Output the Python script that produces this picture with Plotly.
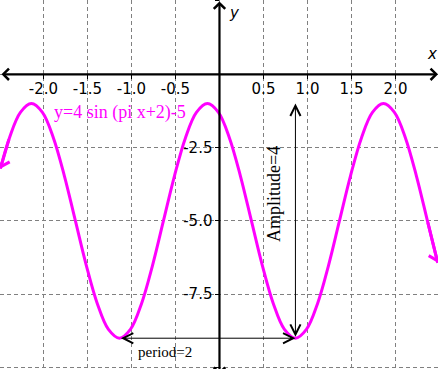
import plotly.graph_objects as go

# ---- data ----
curve_x = [-2.49, -2.387, -2.262, -2.137, -2.012, -1.887, -1.762, -1.637, -1.512, -1.387,
           -1.262, -1.137, -1.012, -0.887, -0.762, -0.637, -0.512, -0.387, -0.262, -0.137,
           -0.012, 0.113, 0.238, 0.363, 0.488, 0.613, 0.738, 0.863, 0.988, 1.113,
           1.238, 1.363, 1.488, 1.613, 1.738, 1.863, 1.988, 2.113, 2.238, 2.363, 2.48]
curve_y = [-3.22, -2.17, -1.30, -1.00, -1.30, -2.17, -3.47, -5.00, -6.53, -7.83,
           -8.70, -9.00, -8.70, -7.83, -6.53, -5.00, -3.47, -2.17, -1.30, -1.00,
           -1.30, -2.17, -3.47, -5.00, -6.53, -7.83, -8.70, -9.00, -8.70, -7.83,
           -6.53, -5.00, -3.47, -2.17, -1.30, -1.00, -1.30, -2.17, -3.47, -5.00, -6.43]

x_tick_vals = [-2.5, -2.0, -1.5, -1.0, -0.5, 0.0, 0.5, 1.0, 1.5, 2.0, 2.5]
x_tick_text = ["", "-2.0", "-1.5", "-1.0", "-0.5", "", "0.5", "1.0", "1.5", "2.0", ""]
y_tick_vals = [2.5, 0.0, -2.5, -5.0, -7.5, -10.0]
y_tick_text = ["", "", "-2.5", "-5.0", "-7.5", ""]

amp_x = 0.863
amp_y = [-1.0, -9.0]
period_x = [-1.137, 0.863]
period_y = -9.0

curve_label = "y=4 sin (pi x+2)-5"
amp_label = "Amplitude=4"
period_label = "period=2"

X_RANGE = [-2.494, 2.483]
Y_RANGE = [-10.05, 2.533]

MAGENTA = "#FF00FF"
GRID = "#808080"

fig = go.Figure()
fig.add_trace(go.Scatter(
    x=curve_x, y=curve_y, mode="lines",
    line=dict(color=MAGENTA, width=3, shape="spline", smoothing=1.0),
    hoverinfo="skip", showlegend=False,
))

x_pos = (0 - Y_RANGE[0]) / (Y_RANGE[1] - Y_RANGE[0])
y_pos = (0 - X_RANGE[0]) / (X_RANGE[1] - X_RANGE[0])

tickfont = dict(family="DejaVu Sans", size=15, color="black")

fig.update_xaxes(
    range=X_RANGE, anchor="free", position=x_pos, automargin=False,
    tickvals=x_tick_vals, ticktext=x_tick_text,
    showgrid=True, gridcolor=GRID, gridwidth=1, griddash="4px,3px",
    zeroline=False, showline=False,
    ticks="outside", ticklen=4, tickcolor="black", tickwidth=1,
    tickfont=tickfont, ticklabelstandoff=-3,
)
fig.update_yaxes(
    range=Y_RANGE, anchor="free", position=y_pos, automargin=False,
    tickvals=y_tick_vals, ticktext=y_tick_text,
    showgrid=True, gridcolor=GRID, gridwidth=1, griddash="4px,3px",
    zeroline=False, showline=False,
    ticks="outside", ticklen=4, tickcolor="black", tickwidth=1,
    tickfont=tickfont,
)

ann = []
# axes with arrows
ann.append(dict(x=X_RANGE[1], y=0, ax=X_RANGE[0], ay=0, xref="x", yref="y", axref="x", ayref="y",
                text="", showarrow=True, arrowside="end+start", arrowhead=4, startarrowhead=4,
                arrowsize=1, startarrowsize=1, arrowwidth=2.2, arrowcolor="black"))
ann.append(dict(x=0, y=Y_RANGE[1] - 0.05, ax=0, ay=Y_RANGE[0] - 0.25, xref="x", yref="y", axref="x", ayref="y",
                text="", showarrow=True, arrowside="end+start", arrowhead=4, startarrowhead=4,
                arrowsize=1, startarrowsize=1, arrowwidth=2.2, arrowcolor="black"))
# curve end arrows
ann.append(dict(x=curve_x[0], y=curve_y[0], ax=curve_x[1], ay=curve_y[1], xref="x", yref="y", axref="x", ayref="y",
                text="", showarrow=True, arrowhead=4, arrowsize=0.9, arrowwidth=3, arrowcolor=MAGENTA))
ann.append(dict(x=curve_x[-1], y=curve_y[-1], ax=curve_x[-2], ay=curve_y[-2], xref="x", yref="y", axref="x", ayref="y",
                text="", showarrow=True, arrowhead=4, arrowsize=0.9, arrowwidth=3, arrowcolor=MAGENTA))
# amplitude arrow
ann.append(dict(x=amp_x, y=amp_y[0], ax=amp_x, ay=amp_y[1], xref="x", yref="y", axref="x", ayref="y",
                text="", showarrow=True, arrowside="end+start", arrowhead=5, startarrowhead=5,
                arrowsize=2, startarrowsize=2, arrowwidth=1, arrowcolor="black"))
# period arrow
ann.append(dict(x=period_x[1], y=period_y, ax=period_x[0], ay=period_y, xref="x", yref="y", axref="x", ayref="y",
                text="", showarrow=True, arrowside="end+start", arrowhead=5, startarrowhead=5,
                arrowsize=2, startarrowsize=2, arrowwidth=1, arrowcolor="black"))
# texts
ann.append(dict(x=-1.13, y=-1.32, xref="x", yref="y", text=curve_label, showarrow=False,
                font=dict(family="Liberation Serif", size=18, color=MAGENTA)))
ann.append(dict(x=0.619, y=-4.08, xref="x", yref="y", text=amp_label, showarrow=False, textangle=-90,
                font=dict(family="Liberation Serif", size=18, color="black")))
ann.append(dict(x=-0.62, y=-9.47, xref="x", yref="y", text=period_label, showarrow=False,
                font=dict(family="Liberation Serif", size=15, color="black")))
ann.append(dict(x=2.41, y=0.69, xref="x", yref="y", text="<i>x</i>", showarrow=False,
                font=dict(family="DejaVu Sans", size=15, color="black")))
ann.append(dict(x=0.165, y=2.1, xref="x", yref="y", text="<i>y</i>", showarrow=False,
                font=dict(family="DejaVu Sans", size=15, color="black")))

fig.update_layout(
    width=438, height=369,
    margin=dict(l=0, r=0, t=0, b=0),
    plot_bgcolor="white", paper_bgcolor="white",
    showlegend=False,
    annotations=ann,
)

fig.write_html("out.html", config={"displayModeBar": False},
               post_script="document.body.style.margin='0';document.body.style.padding='0';document.body.style.overflow='hidden';")
